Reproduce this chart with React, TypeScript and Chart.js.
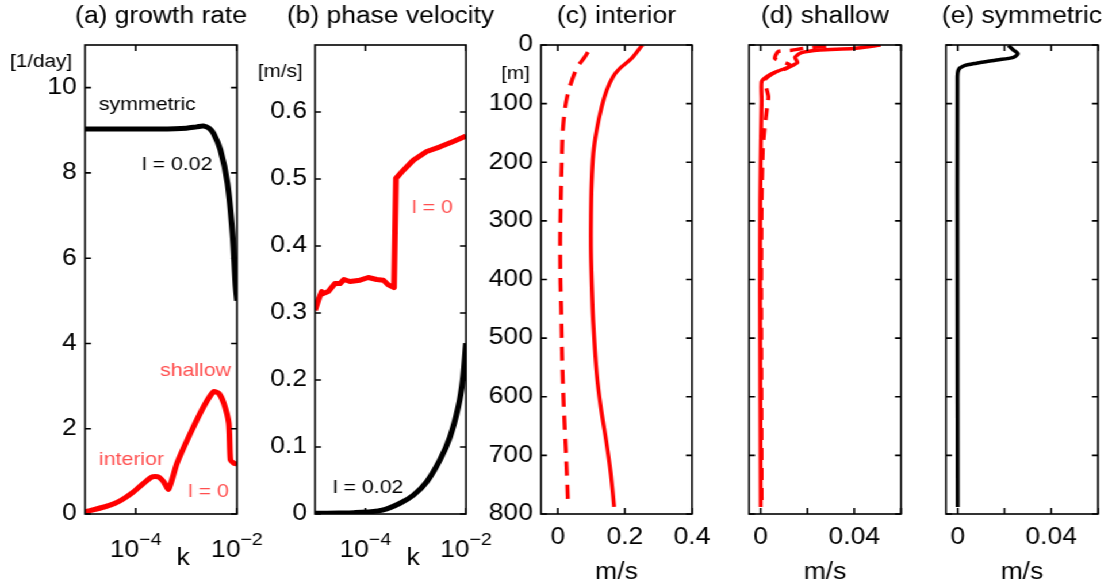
import React, { useEffect, useRef } from 'react';
import { Chart, registerables } from 'chart.js';

Chart.register(...registerables);

// ---------- data ----------

// (a) growth rate [1/day] against along-front wavenumber k
const kSymmetric = [1e-5, 3e-5, 1e-4, 3e-4, 1e-3, 1.6e-3, 2.17e-3, 2.8e-3, 3.43e-3, 4.71e-3, 6.48e-3, 8.15e-3, 9.33e-3, 1e-2];
const growthSymmetric = [9.03, 9.03, 9.03, 9.03, 9.05, 9.08, 9.1, 9.05, 8.93, 8.54, 7.76, 6.58, 5.4, 5.0];

const kL0 = [1e-5, 2.49e-5, 3.93e-5, 6e-5, 9.06e-5, 1.43e-4, 2.09e-4, 2.83e-4, 3.55e-4, 4.46e-4, 6.54e-4, 1.2e-3, 2.2e-3, 3.47e-3, 4.36e-3, 5.48e-3, 6.89e-3, 7.43e-3, 8.65e-3, 1e-2];
const growthL0 = [0.05, 0.17, 0.25, 0.37, 0.52, 0.72, 0.87, 0.87, 0.76, 0.58, 1.19, 1.89, 2.52, 2.87, 2.83, 2.6, 2.13, 1.27, 1.19, 1.17];

// (b) phase velocity [m/s]
const kPhaseL0 = [1e-5, 1.164e-5, 1.358e-5, 1.462e-5, 1.837e-5, 2.495e-5, 3.14e-5, 3.767e-5, 4.955e-5, 7.834e-5, 1.146e-4, 1.683e-4, 2.275e-4, 2.858e-4, 3.715e-4, 4.064e-4, 5.675e-4, 8.974e-4, 1.656e-3, 3.048e-3, 5.598e-3, 1e-2];
const phaseL0 = [0.304, 0.319, 0.332, 0.329, 0.332, 0.344, 0.344, 0.35, 0.347, 0.349, 0.353, 0.35, 0.349, 0.342, 0.338, 0.501, 0.513, 0.528, 0.541, 0.548, 0.556, 0.564];

const kPhaseL002 = [1e-5, 3e-5, 6e-5, 1.064e-4, 2.275e-4, 4.887e-4, 8.974e-4, 1.656e-3, 3.048e-3, 4.81e-3, 7.03e-3, 8.61e-3, 1e-2];
const phaseL002 = [0.001, 0.0015, 0.002, 0.003, 0.006, 0.016, 0.028, 0.048, 0.081, 0.115, 0.16, 0.2, 0.255];

// (c) interior mode velocity profiles
const depthInteriorU = [0, 23, 40, 54, 77, 105, 145, 185, 236, 293, 355, 435, 475, 560, 617, 674, 731, 788];
const interiorU = [0.252, 0.22, 0.185, 0.165, 0.146, 0.131, 0.116, 0.106, 0.101, 0.099, 0.099, 0.103, 0.106, 0.116, 0.128, 0.144, 0.158, 0.168];
const depthInteriorW = [12, 20, 40, 88, 139, 196, 265, 333, 407, 446, 532, 617, 702, 788];
const interiorW = [0.09, 0.081, 0.056, 0.028, 0.016, 0.012, 0.009, 0.007, 0.008, 0.01, 0.013, 0.018, 0.025, 0.031];

// (d) shallow mode velocity profiles
const depthShallowU = [0, 6, 8.5, 13, 21, 30, 37, 45.5, 54, 62.6, 94, 162, 264, 424, 788];
const shallowU = [0.0513, 0.0396, 0.0254, 0.0175, 0.0147, 0.0157, 0.0125, 0.0068, 0.0026, 0.0004, 0.0004, 0.0001, -0.0002, -0.0003, 0.0];
const depthShallowW = [2, 6, 9, 11, 23, 34, 40, 49, 60, 88, 111, 145, 179, 264, 424, 788];
const shallowW = [0.028, 0.018, 0.0133, 0.0075, 0.0061, 0.0125, 0.011, 0.005, 0.0018, 0.0033, 0.0026, 0.0016, 0.0009, 0.0004, 0.0002, 0.0004];

// (e) symmetric mode velocity profile
const depthSymmetricU = [1, 8.5, 15, 21, 25.6, 31, 36, 42.7, 60, 435, 788];
const symmetricU = [0.0217, 0.0238, 0.0257, 0.0238, 0.0167, 0.0081, 0.0024, 0.0003, -0.0001, -0.0001, 0.0];

// tick values and labels
const kTicks = [1e-4, 1e-2];
const growthTicks = [0, 2, 4, 6, 8, 10];
const phaseTicks = [0, 0.1, 0.2, 0.3, 0.4, 0.5, 0.6];
const phaseTickLabels = ['0', '0.1', '0.2', '0.3', '0.4', '0.5', '0.6'];
const depthTicks = [0, 100, 200, 300, 400, 500, 600, 700, 800];
const interiorTicks = [0, 0.2, 0.4];
const interiorTickLabels = ['0', '0.2', '0.4'];
const smallTicks = [0, 0.02, 0.04, 0.06];
const smallTickLabels = ['0', '', '0.04', ''];

// ---------- layout ----------
const FIG_W = 1112;
const FIG_H = 588;
const W0 = 967; // drawing width before the horizontal stretch
const SX = FIG_W / W0;
const PLOT_TOP = 45;
const PLOT_BOTTOM = 514;
const Y_AXIS_W = 70;
const X_AXIS_H = 40;
const FONT = '"Liberation Sans", Arial, Helvetica, sans-serif';
const TICK_SIZE = 23;
const NOTE_SIZE = 18.5;
const RED = '#ff0000';
const NOTE_RED = '#ff5050';

type Note = { text: string; x: number; y: number; color: string; size?: number; align?: CanvasTextAlign };

type PanelCfg = {
  title: string;
  left: number;
  right: number;
  log: boolean;
  xMin: number;
  xMax: number;
  xTicks: number[];
  xTickLabels?: string[];
  yMin: number;
  yMax: number;
  yTicks: number[];
  yTickLabels?: string[] | null;
  reverse: boolean;
  datasets: any[];
  notes: Note[];
};

const pts = (xs: number[], ys: number[]) => xs.map((x, i) => ({ x, y: ys[i] }));

const line = (data: { x: number; y: number }[], color: string, width: number, extra: any = {}) => ({
  data,
  showLine: true,
  borderColor: color,
  backgroundColor: color,
  borderWidth: width,
  pointRadius: 0,
  borderCapStyle: 'butt',
  borderJoinStyle: 'round',
  tension: 0,
  ...extra,
});

const panels: PanelCfg[] = [
  {
    title: '(a) growth rate',
    left: 85,
    right: 237,
    log: true,
    xMin: 1e-5,
    xMax: 1e-2,
    xTicks: kTicks,
    yMin: 0,
    yMax: 11,
    yTicks: growthTicks,
    yTickLabels: growthTicks.map(String),
    reverse: false,
    datasets: [
      line(pts(kSymmetric, growthSymmetric), '#000', 5, { tension: 0.3 }),
      line(pts(kL0, growthL0), RED, 5, { tension: 0.2 }),
    ],
    notes: [
      { text: '[1/day]', x: 10, y: 67, color: '#000', size: 18 },
      { text: 'symmetric', x: 99, y: 110, color: '#000' },
      { text: 'l = 0.02', x: 142, y: 170, color: '#000' },
      { text: 'shallow', x: 160, y: 376, color: NOTE_RED },
      { text: 'interior', x: 99, y: 465, color: NOTE_RED },
      { text: 'l = 0', x: 188, y: 497, color: NOTE_RED },
      { text: 'k', x: 183, y: 565, color: '#000', size: TICK_SIZE, align: 'center' },
    ],
  },
  {
    title: '(b) phase velocity',
    left: 315,
    right: 466,
    log: true,
    xMin: 1e-5,
    xMax: 1e-2,
    xTicks: kTicks,
    yMin: 0,
    yMax: 0.7,
    yTicks: phaseTicks,
    yTickLabels: phaseTickLabels,
    reverse: false,
    datasets: [
      line(pts(kPhaseL0, phaseL0), RED, 5),
      line(pts(kPhaseL002, phaseL002), '#000', 5, { tension: 0.35 }),
    ],
    notes: [
      { text: '[m/s]', x: 258, y: 77, color: '#000', size: 18 },
      { text: 'l = 0', x: 412, y: 213, color: NOTE_RED },
      { text: 'l = 0.02', x: 333, y: 493, color: '#000' },
      { text: 'k', x: 413, y: 565, color: '#000', size: TICK_SIZE, align: 'center' },
    ],
  },
  {
    title: '(c) interior',
    left: 541,
    right: 692,
    log: false,
    xMin: -0.05,
    xMax: 0.4,
    xTicks: interiorTicks,
    xTickLabels: interiorTickLabels,
    yMin: 0,
    yMax: 800,
    yTicks: depthTicks,
    yTickLabels: depthTicks.map(String),
    reverse: true,
    datasets: [
      line(pts(interiorU, depthInteriorU), RED, 3.5, { tension: 0.3 }),
      line(pts(interiorW, depthInteriorW), RED, 3.5, { tension: 0.3, borderDash: [14, 9] }),
    ],
    notes: [
      { text: '[m]', x: 501, y: 79, color: '#000', size: 18 },
      { text: 'm/s', x: 616.5, y: 579, color: '#000', size: TICK_SIZE, align: 'center' },
    ],
  },
  {
    title: '(d) shallow',
    left: 749,
    right: 901,
    log: false,
    xMin: -0.005,
    xMax: 0.06,
    xTicks: smallTicks,
    xTickLabels: smallTickLabels,
    yMin: 0,
    yMax: 800,
    yTicks: depthTicks,
    yTickLabels: null,
    reverse: true,
    datasets: [
      line(pts(shallowU, depthShallowU), RED, 3.5, { tension: 0.2 }),
      line(pts(shallowW, depthShallowW), RED, 3.5, { tension: 0.2, borderDash: [12, 8] }),
    ],
    notes: [{ text: 'm/s', x: 825, y: 579, color: '#000', size: TICK_SIZE, align: 'center' }],
  },
  {
    title: '(e) symmetric',
    left: 946,
    right: 1098,
    log: false,
    xMin: -0.005,
    xMax: 0.06,
    xTicks: smallTicks,
    xTickLabels: smallTickLabels,
    yMin: 0,
    yMax: 800,
    yTicks: depthTicks,
    yTickLabels: null,
    reverse: true,
    datasets: [line(pts(symmetricU, depthSymmetricU), '#000', 3.5, { tension: 0.3 })],
    notes: [{ text: 'm/s', x: 1022, y: 579, color: '#000', size: TICK_SIZE, align: 'center' }],
  },
];

// ---------- plugins ----------

// Box around the axes with inward tick marks on all four sides
const framePlugin = {
  id: 'frame',
  afterDatasetsDraw(chart: any) {
    const { ctx, chartArea: a, scales } = chart;
    ctx.save();
    ctx.strokeStyle = '#000';
    ctx.lineWidth = 1.6;
    ctx.strokeRect(a.left, a.top, a.right - a.left, a.bottom - a.top);
    const tv = 6;
    const th = 6 / SX;
    ctx.beginPath();
    scales.x.ticks.forEach((t: any) => {
      const p = scales.x.getPixelForValue(t.value);
      ctx.moveTo(p, a.bottom);
      ctx.lineTo(p, a.bottom - tv);
      ctx.moveTo(p, a.top);
      ctx.lineTo(p, a.top + tv);
    });
    scales.y.ticks.forEach((t: any) => {
      const p = scales.y.getPixelForValue(t.value);
      ctx.moveTo(a.left, p);
      ctx.lineTo(a.left + th, p);
      ctx.moveTo(a.right, p);
      ctx.lineTo(a.right - th, p);
    });
    ctx.stroke();
    ctx.restore();
  },
};

function makeTextPlugin(cfg: PanelCfg) {
  return {
    id: 'panelText',
    afterDraw(chart: any) {
      const { ctx, chartArea: a, scales } = chart;
      ctx.save();
      // panel title
      ctx.fillStyle = '#000';
      ctx.font = `${TICK_SIZE}px ${FONT}`;
      ctx.textAlign = 'center';
      ctx.textBaseline = 'alphabetic';
      ctx.fillText(cfg.title, (a.left + a.right) / 2, 23);
      // powers of ten under a logarithmic axis
      if (cfg.log) {
        scales.x.ticks.forEach((t: any) => {
          const p = scales.x.getPixelForValue(t.value);
          const exp = Math.round(Math.log10(t.value));
          const base = '10';
          const sup = '\u2212' + Math.abs(exp);
          ctx.font = `${TICK_SIZE}px ${FONT}`;
          const wb = ctx.measureText(base).width;
          ctx.font = `17px ${FONT}`;
          const ws = ctx.measureText(sup).width;
          const x0 = p - (wb + ws) / 2;
          ctx.textAlign = 'left';
          ctx.font = `${TICK_SIZE}px ${FONT}`;
          ctx.fillText(base, x0, 557);
          ctx.font = `17px ${FONT}`;
          ctx.fillText(sup, x0 + wb, 545);
        });
      }
      // annotations, units and axis names
      cfg.notes.forEach((n) => {
        ctx.fillStyle = n.color;
        ctx.font = `${n.size ?? NOTE_SIZE}px ${FONT}`;
        ctx.textAlign = n.align ?? 'left';
        ctx.fillText(n.text, n.x / SX, n.y);
      });
      ctx.restore();
    },
  };
}

function Panel({ cfg }: { cfg: PanelCfg }) {
  const ref = useRef<HTMLCanvasElement>(null);
  useEffect(() => {
    const left = cfg.left / SX;
    const right = cfg.right / SX;
    const chart = new Chart(ref.current as HTMLCanvasElement, {
      type: 'scatter',
      data: { datasets: cfg.datasets },
      options: {
        animation: false,
        responsive: false,
        maintainAspectRatio: false,
        devicePixelRatio: 1,
        events: [],
        layout: {
          padding: {
            left: left - Y_AXIS_W,
            right: W0 - right,
            top: PLOT_TOP,
            bottom: FIG_H - PLOT_BOTTOM - X_AXIS_H,
          },
        },
        plugins: { legend: { display: false }, tooltip: { enabled: false } },
        scales: {
          x: {
            type: cfg.log ? 'logarithmic' : 'linear',
            position: 'bottom',
            min: cfg.xMin,
            max: cfg.xMax,
            grid: { display: false, drawTicks: false },
            border: { display: false },
            ticks: {
              display: !cfg.log,
              autoSkip: false,
              maxRotation: 0,
              padding: 10,
              color: '#000',
              font: { family: FONT, size: TICK_SIZE },
              callback: (_v: any, i: number) => (cfg.xTickLabels ? cfg.xTickLabels[i] : ''),
            },
            afterBuildTicks: (s: any) => {
              s.ticks = cfg.xTicks.map((v) => ({ value: v }));
            },
            afterFit: (s: any) => {
              s.height = X_AXIS_H;
            },
          },
          y: {
            type: 'linear',
            position: 'left',
            min: cfg.yMin,
            max: cfg.yMax,
            reverse: cfg.reverse,
            grid: { display: false, drawTicks: false },
            border: { display: false },
            ticks: {
              display: !!cfg.yTickLabels,
              autoSkip: false,
              padding: 7,
              color: '#000',
              font: { family: FONT, size: TICK_SIZE },
              callback: (_v: any, i: number) => (cfg.yTickLabels ? cfg.yTickLabels[i] : ''),
            },
            afterBuildTicks: (s: any) => {
              s.ticks = cfg.yTicks.map((v) => ({ value: v }));
            },
            afterFit: (s: any) => {
              s.width = Y_AXIS_W;
            },
          },
        },
      } as any,
      plugins: [framePlugin, makeTextPlugin(cfg)],
    });
    return () => chart.destroy();
  }, [cfg]);
  return (
    <canvas
      ref={ref}
      width={W0}
      height={FIG_H}
      style={{ position: 'absolute', left: 0, top: 0, width: W0, height: FIG_H }}
    />
  );
}

export default function App() {
  return (
    <div
      style={{
        position: 'fixed',
        left: 0,
        top: 0,
        width: W0,
        height: FIG_H,
        background: '#fff',
        transform: `scaleX(${SX})`,
        transformOrigin: '0 0',
      }}
    >
      {panels.map((p) => (
        <Panel key={p.title} cfg={p} />
      ))}
    </div>
  );
}
